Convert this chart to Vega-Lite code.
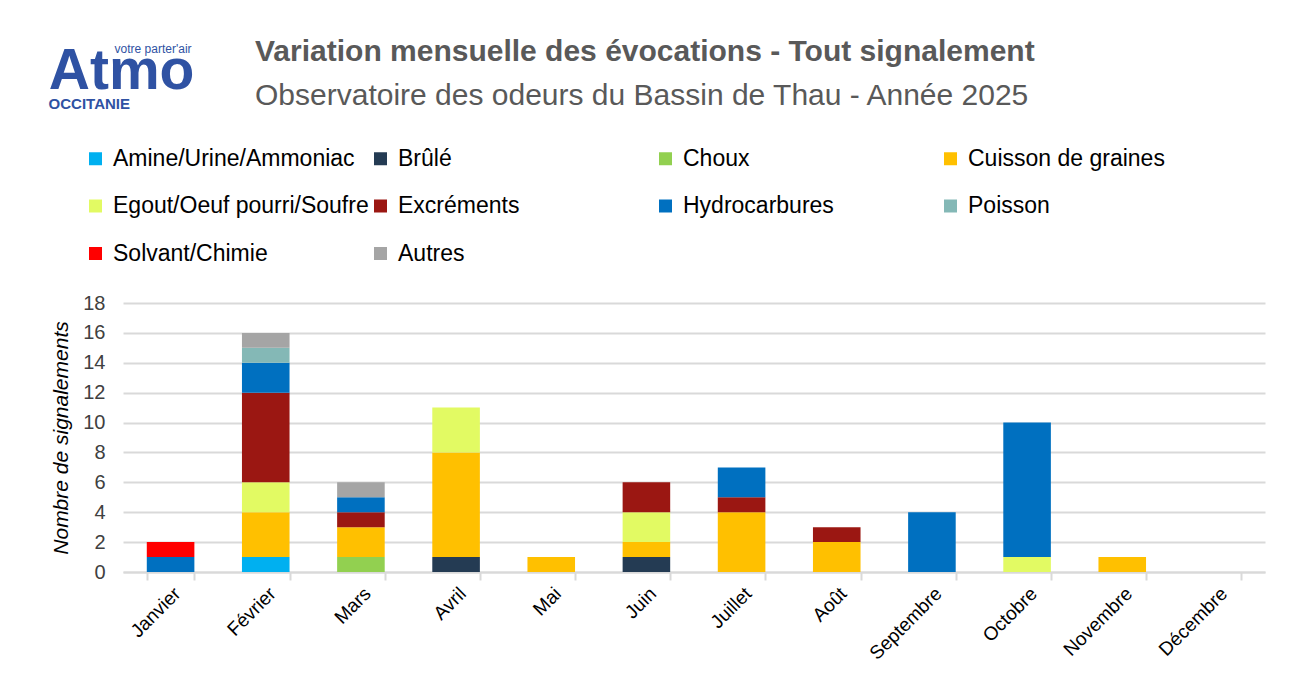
{
  "$schema": "https://vega.github.io/schema/vega-lite/v6.json",
  "width": 1142,
  "height": 269,
  "autosize": {"type": "none"},
  "padding": {"left": 123, "top": 303, "right": 29, "bottom": 114},
  "background": "white",
  "title": {
    "text": "Variation mensuelle des évocations - Tout signalement",
    "subtitle": "Observatoire des odeurs du Bassin de Thau - Année 2025",
    "anchor": "start",
    "frame": "group",
    "dx": 132,
    "offset": -68,
    "font": "Liberation Sans",
    "fontSize": 30,
    "fontWeight": "bold",
    "color": "#595959",
    "subtitleFont": "Liberation Sans",
    "subtitleFontSize": 30,
    "subtitleFontWeight": "normal",
    "subtitleColor": "#595959",
    "subtitlePadding": 14
  },
  "config": {
    "view": {"stroke": null},
    "axis": {"gridColor": "#d9d9d9", "gridWidth": 2},
    "legend": {
      "orient": "none",
      "legendX": -39,
      "legendY": -156,
      "direction": "horizontal",
      "columns": 4,
      "gridAlign": "all",
      "columnPadding": 0,
      "rowPadding": 23.5,
      "padding": 0,
      "symbolType": "square",
      "symbolSize": 169,
      "symbolStrokeWidth": 0,
      "labelFont": "Liberation Sans",
      "labelFontSize": 23,
      "labelColor": "#000000",
      "labelOffset": 6,
      "labelLimit": 500
    }
  },
  "layer": [
    {
      "data": {
        "values": [
          {"mois": "Janvier", "odeur": "Hydrocarbures", "rang": 7, "n": 1},
          {"mois": "Janvier", "odeur": "Solvant/Chimie", "rang": 9, "n": 1},
          {"mois": "Février", "odeur": "Amine/Urine/Ammoniac", "rang": 1, "n": 1},
          {"mois": "Février", "odeur": "Cuisson de graines", "rang": 4, "n": 3},
          {"mois": "Février", "odeur": "Egout/Oeuf pourri/Soufre", "rang": 5, "n": 2},
          {"mois": "Février", "odeur": "Excréments", "rang": 6, "n": 6},
          {"mois": "Février", "odeur": "Hydrocarbures", "rang": 7, "n": 2},
          {"mois": "Février", "odeur": "Poisson", "rang": 8, "n": 1},
          {"mois": "Février", "odeur": "Autres", "rang": 10, "n": 1},
          {"mois": "Mars", "odeur": "Choux", "rang": 3, "n": 1},
          {"mois": "Mars", "odeur": "Cuisson de graines", "rang": 4, "n": 2},
          {"mois": "Mars", "odeur": "Excréments", "rang": 6, "n": 1},
          {"mois": "Mars", "odeur": "Hydrocarbures", "rang": 7, "n": 1},
          {"mois": "Mars", "odeur": "Autres", "rang": 10, "n": 1},
          {"mois": "Avril", "odeur": "Brûlé", "rang": 2, "n": 1},
          {"mois": "Avril", "odeur": "Cuisson de graines", "rang": 4, "n": 7},
          {"mois": "Avril", "odeur": "Egout/Oeuf pourri/Soufre", "rang": 5, "n": 3},
          {"mois": "Mai", "odeur": "Cuisson de graines", "rang": 4, "n": 1},
          {"mois": "Juin", "odeur": "Brûlé", "rang": 2, "n": 1},
          {"mois": "Juin", "odeur": "Cuisson de graines", "rang": 4, "n": 1},
          {"mois": "Juin", "odeur": "Egout/Oeuf pourri/Soufre", "rang": 5, "n": 2},
          {"mois": "Juin", "odeur": "Excréments", "rang": 6, "n": 2},
          {"mois": "Juillet", "odeur": "Cuisson de graines", "rang": 4, "n": 4},
          {"mois": "Juillet", "odeur": "Excréments", "rang": 6, "n": 1},
          {"mois": "Juillet", "odeur": "Hydrocarbures", "rang": 7, "n": 2},
          {"mois": "Août", "odeur": "Cuisson de graines", "rang": 4, "n": 2},
          {"mois": "Août", "odeur": "Excréments", "rang": 6, "n": 1},
          {"mois": "Septembre", "odeur": "Hydrocarbures", "rang": 7, "n": 4},
          {"mois": "Octobre", "odeur": "Egout/Oeuf pourri/Soufre", "rang": 5, "n": 1},
          {"mois": "Octobre", "odeur": "Hydrocarbures", "rang": 7, "n": 9},
          {"mois": "Novembre", "odeur": "Cuisson de graines", "rang": 4, "n": 1}
        ]
      },
      "mark": {"type": "bar"},
      "encoding": {
        "x": {
          "field": "mois",
          "type": "nominal",
          "sort": null,
          "scale": {
            "domain": ["Janvier", "Février", "Mars", "Avril", "Mai", "Juin", "Juillet", "Août", "Septembre", "Octobre", "Novembre", "Décembre"],
            "paddingInner": 0.5,
            "paddingOuter": 0.25
          },
          "axis": {
            "title": null,
            "labelAngle": -45,
            "labelFont": "Liberation Sans",
            "labelFontSize": 19,
            "labelColor": "#000000",
            "labelPadding": 4,
            "tickBand": "extent",
            "ticks": true,
            "tickColor": "#d9d9d9",
            "tickSize": 8,
            "tickWidth": 2,
            "domainColor": "#d9d9d9",
            "domainWidth": 2
          }
        },
        "y": {
          "field": "n",
          "type": "quantitative",
          "stack": "zero",
          "scale": {"domain": [0, 18]},
          "axis": {
            "title": "Nombre de signalements",
            "titleFont": "Liberation Sans",
            "titleFontSize": 21,
            "titleFontStyle": "italic",
            "titleFontWeight": "normal",
            "titleColor": "#000000",
            "titlePadding": 11,
            "values": [0, 2, 4, 6, 8, 10, 12, 14, 16, 18],
            "tickCount": 20,
            "labelOverlap": false,
            "labelFont": "Liberation Sans",
            "labelFontSize": 20,
            "labelColor": "#404040",
            "labelPadding": 18,
            "ticks": false,
            "tickSize": 0,
            "domain": false,
            "grid": true
          }
        },
        "color": {
          "field": "odeur",
          "type": "nominal",
          "scale": {
            "domain": ["Amine/Urine/Ammoniac", "Brûlé", "Choux", "Cuisson de graines", "Egout/Oeuf pourri/Soufre", "Excréments", "Hydrocarbures", "Poisson", "Solvant/Chimie", "Autres"],
            "range": ["#00B0F0", "#243B53", "#92D050", "#FFC000", "#E2FA63", "#9B1712", "#0070C0", "#84B8B6", "#FF0000", "#A5A5A5"]
          },
          "legend": {"title": null}
        },
        "order": {"field": "rang", "type": "quantitative", "sort": "ascending"}
      }
    },
    {
      "data": {"values": [{"logo": "Atmo"}]},
      "mark": {"type": "text", "font": "Liberation Sans", "fontWeight": "bold", "fontSize": 57, "color": "#2F52A3", "align": "center", "baseline": "alphabetic", "dx": -49},
      "encoding": {
        "text": {"field": "logo"},
        "x": {"datum": "Janvier"},
        "y": {"datum": 32.3, "type": "quantitative", "scale": {"domain": [0, 18]}}
      }
    },
    {
      "data": {"values": [{"logo": "OCCITANIE"}]},
      "mark": {"type": "text", "font": "Liberation Sans", "fontWeight": "bold", "fontSize": 15, "color": "#2F52A3", "align": "left", "baseline": "alphabetic", "dx": -122},
      "encoding": {
        "text": {"field": "logo"},
        "x": {"datum": "Janvier"},
        "y": {"datum": 30.95, "type": "quantitative", "scale": {"domain": [0, 18]}}
      }
    },
    {
      "data": {"values": [{"logo": "votre parter'air"}]},
      "mark": {"type": "text", "font": "Liberation Sans", "fontSize": 12, "color": "#2F52A3", "align": "right", "baseline": "alphabetic", "dx": 21},
      "encoding": {
        "text": {"field": "logo"},
        "x": {"datum": "Janvier"},
        "y": {"datum": 34.7, "type": "quantitative", "scale": {"domain": [0, 18]}}
      }
    }
  ]
}
